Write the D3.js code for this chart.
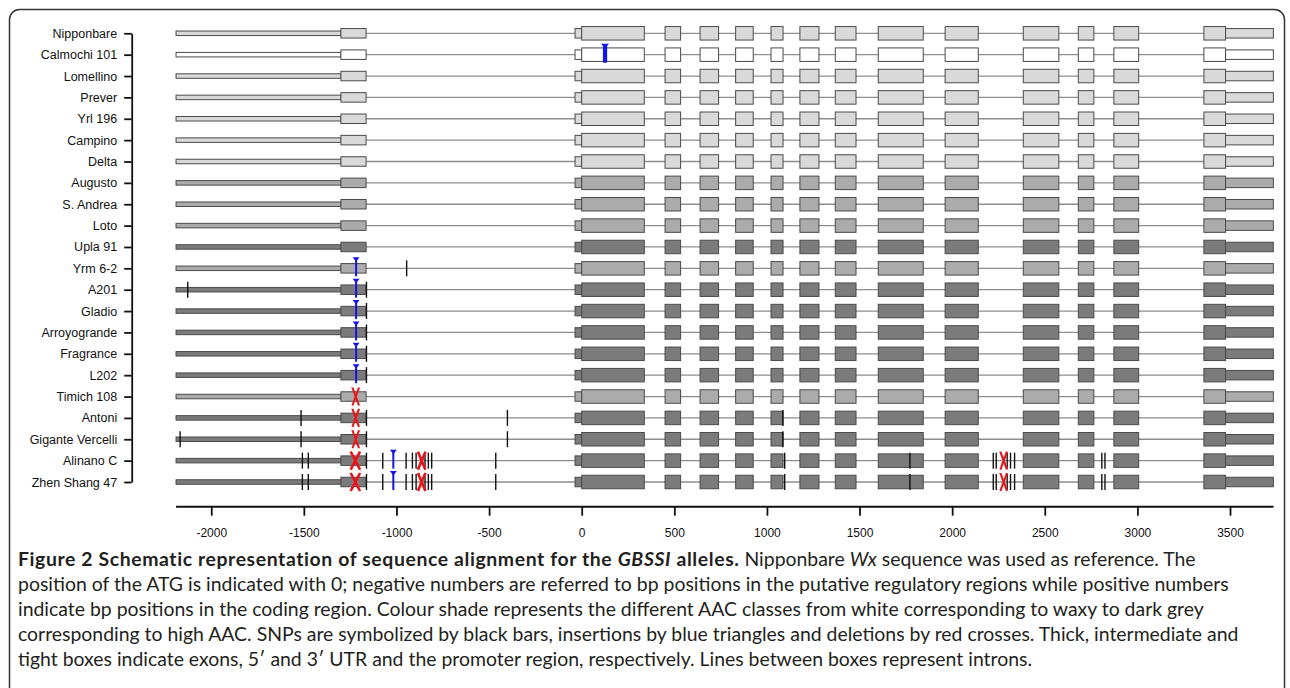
<!DOCTYPE html>
<html>
<head>
<meta charset="utf-8">
<script src="https://cdn.jsdelivr.net/npm/d3@7"></script>
<style>
  html, body { margin: 0; padding: 0; background: #fff; }
  svg { display: block; }
</style>
</head>
<body>
<svg id="chart" width="1290" height="688"></svg>
<script>
// ---------------- DATA ----------------
const samples = ["Nipponbare","Calmochi 101","Lomellino","Prever","Yrl 196","Campino","Delta",
  "Augusto","S. Andrea","Loto","Upla 91","Yrm 6-2","A201","Gladio","Arroyogrande","Fragrance",
  "L202","Timich 108","Antoni","Gigante Vercelli","Alinano C","Zhen Shang 47"];
const aacClass = ["low","waxy","low","low","low","low","low",
  "intermediate","intermediate","intermediate","high","intermediate","high","high","high","high",
  "high","intermediate","high","high","high","high"];

const promoter = [-2190, -1300];
const utr5 = [[-1300, -1164], [-36, 0]];
const exons = [[0,338],[450,534],[639,739],[831,926],[1022,1087],[1178,1281],[1369,1481],
  [1601,1844],[1962,2141],[2384,2576],[2681,2765],[2873,3007],[3359,3476]];
const utr3 = [3476, 3734];
const xTicks = [-2000,-1500,-1000,-500,0,500,1000,1500,2000,2500,3000,3500];

const alinanoSnps = [-1508,-1476,-1162,-1074,-948,-914,-894,-846,-828,-810,-464,1096,1772,2222,2238,2297,2315,2337,2808,2825];
const snps = [
  ["Yrm 6-2", [-945]],
  ["A201", [-2127, -1162]],
  ["Gladio", [-1162]],
  ["Arroyogrande", [-1162]],
  ["Fragrance", [-1162]],
  ["L202", [-1162]],
  ["Antoni", [-1515, -1162, -401, 1086]],
  ["Gigante Vercelli", [-2168, -1515, -1162, -401, 1086]],
  ["Alinano C", alinanoSnps],
  ["Zhen Shang 47", alinanoSnps]
];
// [sample, position (bp), length (bp)]
const insertions = [
  ["Calmochi 101", 126, 23],
  ["Yrm 6-2", -1218, 1], ["A201", -1218, 1], ["Gladio", -1218, 1], ["Arroyogrande", -1218, 1],
  ["Fragrance", -1218, 1], ["L202", -1218, 1],
  ["Alinano C", -1017, 1], ["Zhen Shang 47", -1017, 1]
];
const deletions = [
  ["Timich 108", -1220, 1], ["Antoni", -1220, 1], ["Gigante Vercelli", -1220, 1],
  ["Alinano C", -1222, 50], ["Alinano C", -864, 40], ["Alinano C", 2278, 20],
  ["Zhen Shang 47", -1222, 50], ["Zhen Shang 47", -864, 40], ["Zhen Shang 47", 2278, 20]
];

const captionLines = [
  [["b","Figure 2 Schematic representation of sequence alignment for the "],["bi","GBSSI"],["b"," alleles."],["n"," Nipponbare "],["i","Wx"],["n"," sequence was used as reference. The"]],
  [["n","position of the ATG is indicated with 0; negative numbers are referred to bp positions in the putative regulatory regions while positive numbers"]],
  [["n","indicate bp positions in the coding region. Colour shade represents the different AAC classes from white corresponding to waxy to dark grey"]],
  [["n","corresponding to high AAC. SNPs are symbolized by black bars, insertions by blue triangles and deletions by red crosses. Thick, intermediate and"]],
  [["n","tight boxes indicate exons, 5\u2032 and 3\u2032 UTR and the promoter region, respectively. Lines between boxes represent introns."]]
];

// ---------------- STYLE ----------------
const classColors = {waxy: "#ffffff", low: "#d9d9d9", intermediate: "#ababab", high: "#7b7b7b"};
const labelFont = "'Liberation Sans', Arial, Helvetica, sans-serif";

const svg = d3.select("#chart");
svg.append("rect").attr("width", 1290).attr("height", 688).attr("fill", "#fff");

// frame
svg.append("rect")
  .attr("x", 9.5).attr("y", 9.5).attr("width", 1275).attr("height", 760)
  .attr("rx", 10).attr("ry", 10)
  .attr("fill", "none").attr("stroke", "#333").attr("stroke-width", 1.5);

const x = d3.scaleLinear().domain([0, 3500]).range([581.7, 1230]);
const y = d3.scalePoint().domain(samples).range([33.3, 482]);

// left axis
const yAxis = d3.axisLeft(y).tickSize(7.5).tickSizeOuter(0).tickPadding(7);
const gy = svg.append("g").attr("transform", "translate(131.7,0)").call(yAxis);
gy.selectAll("path.domain").attr("stroke", "#111").attr("stroke-width", 1.8);
gy.selectAll(".tick line").attr("stroke", "#111").attr("stroke-width", 1.8);
gy.selectAll(".tick text").attr("font-family", labelFont).attr("font-size", 12.5).attr("fill", "#111");

// bottom axis
const axisY = 506.7;
const xAxis = d3.axisBottom(x).tickValues(xTicks).tickSize(9).tickPadding(13).tickFormat(d => String(d));
const gx = svg.append("g").attr("transform", `translate(0,${axisY})`).call(xAxis);
gx.select("path.domain").remove();
gx.append("line").attr("x1", x(-2190)).attr("x2", x(3735)).attr("y1", 0).attr("y2", 0)
  .attr("stroke", "#111").attr("stroke-width", 2);
gx.selectAll(".tick line").attr("stroke", "#111").attr("stroke-width", 1.8);
gx.selectAll(".tick text").attr("font-family", labelFont).attr("font-size", 12).attr("fill", "#111");

// rows
const boxStroke = "#4a4a4a";
const rows = svg.append("g").selectAll("g.row").data(samples).join("g")
  .attr("class", "row").attr("transform", d => `translate(0,${y(d)})`);

rows.append("line").attr("x1", x(utr5[0][1])).attr("x2", x(exons[exons.length-1][0]))
  .attr("y1", 0).attr("y2", 0).attr("stroke", "#8e8e8e").attr("stroke-width", 1.3);

function addBox(sel, a, b, h) {
  sel.append("rect").attr("x", x(a)).attr("width", x(b) - x(a))
    .attr("y", -h/2).attr("height", h)
    .attr("fill", d => classColors[aacClass[samples.indexOf(d)]])
    .attr("stroke", boxStroke).attr("stroke-width", 1);
}
addBox(rows, promoter[0], promoter[1], 4.5);
utr5.forEach(u => addBox(rows, u[0], u[1], 9.5));
exons.forEach(e => addBox(rows, e[0], e[1], 13.5));
addBox(rows, utr3[0], utr3[1], 9.5);

// markers
const mk = svg.append("g");
snps.forEach(([s, list]) => {
  list.forEach(p => {
    mk.append("line").attr("x1", x(p)).attr("x2", x(p))
      .attr("y1", y(s) - 8).attr("y2", y(s) + 8)
      .attr("stroke", "#111").attr("stroke-width", 1.4);
  });
});
const bpPx = x(1) - x(0);
insertions.forEach(([s, p, len]) => {
  const cx = x(p), cy = y(s);
  const w = Math.max(2, len * bpPx);
  const tw = w > 3 ? 8 : 7;
  mk.append("line").attr("x1", cx).attr("x2", cx).attr("y1", cy - 9).attr("y2", cy + 8)
    .attr("stroke", "#1414e6").attr("stroke-width", w);
  mk.append("path")
    .attr("d", `M ${cx - tw/2} ${cy - 11} L ${cx + tw/2} ${cy - 11} L ${cx} ${cy - 6.5} Z`)
    .attr("fill", "#1414e6");
});
deletions.forEach(([s, p, len]) => {
  const cx = x(p), cy = y(s);
  const w = Math.max(6.5, len * bpPx);
  const sw = len > 30 ? 2.6 : 2;
  mk.append("path")
    .attr("d", `M ${cx - w/2 - 1} ${cy - 9} Q ${cx + 1} ${cy} ${cx - w/2 - 1} ${cy + 9} M ${cx + w/2 + 1} ${cy - 9} Q ${cx - 1} ${cy} ${cx + w/2 + 1} ${cy + 9}`)
    .attr("fill", "none").attr("stroke", "#f07070").attr("stroke-width", 0.9).attr("stroke-dasharray", "1.5,1.2");
  mk.append("path")
    .attr("d", `M ${cx - w/2} ${cy - 9} L ${cx + w/2} ${cy + 9} M ${cx + w/2} ${cy - 9} L ${cx - w/2} ${cy + 9}`)
    .attr("fill", "none").attr("stroke", "#e8141b").attr("stroke-width", sw);
});

// caption
const capFont = "Lato, 'Open Sans', sans-serif";
const capX = 18, capY0 = 566, capDy = 25;
function drawCaption() {
  svg.selectAll("text.cap").remove();
  const probe = svg.append("text").attr("class", "cap").attr("font-family", capFont).attr("font-size", 100)
    .text(captionLines[1][0][1]);
  const probeW = probe.node().getComputedTextLength();
  probe.remove();
  const capSize = Math.min(20, Math.max(12, 100 * 1212 / probeW));
  captionLines.forEach((parts, li) => {
    const t = svg.append("text").attr("class", "cap").attr("x", capX).attr("y", capY0 + li * capDy)
      .attr("font-family", capFont).attr("font-size", capSize).attr("fill", "#231f20")
      .attr("xml:space", "preserve");
    parts.forEach(([style, str]) => {
      t.append("tspan")
        .attr("font-weight", style.includes("b") ? "bold" : "normal")
        .attr("font-style", style.includes("i") ? "italic" : "normal")
        .attr("letter-spacing", style.includes("b") ? 0.6 : 0)
        .text(str);
    });
  });
}
drawCaption();
if (document.fonts && document.fonts.ready) document.fonts.ready.then(drawCaption);
</script>
</body>
</html>
